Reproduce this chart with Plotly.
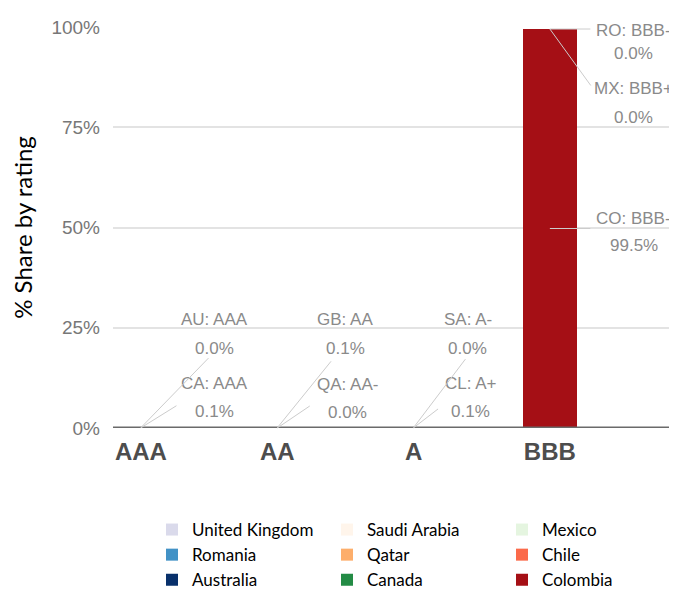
import plotly.graph_objects as go

# rating buckets on the x axis
categories = ['AAA', 'AA', 'A', 'BBB']

# y axis ticks
tick_values = [0, 25, 50, 75, 100]
tick_labels = ['0%', '25%', '50%', '75%', '100%']

# one entry per country (stacking order inside each bucket)
countries = ['Canada', 'Australia', 'Qatar', 'United Kingdom', 'Chile',
             'Saudi Arabia', 'Colombia', 'Mexico', 'Romania']
codes = ['CA', 'AU', 'QA', 'GB', 'CL', 'SA', 'CO', 'MX', 'RO']
buckets = ['AAA', 'AAA', 'AA', 'AA', 'A', 'A', 'BBB', 'BBB', 'BBB']
ratings = ['AAA', 'AAA', 'AA-', 'AA', 'A+', 'A-', 'BBB-', 'BBB+', 'BBB-']
shares = [0.1, 0.0, 0.0, 0.1, 0.1, 0.0, 99.5, 0.0, 0.0]

# legend reading order (3 columns x 3 rows, filled row by row)
legend_order = ['United Kingdom', 'Saudi Arabia', 'Mexico',
                'Romania', 'Qatar', 'Chile',
                'Australia', 'Canada', 'Colombia']

colors = {
    'United Kingdom': '#dadaeb', 'Romania': '#4292c6', 'Australia': '#08306b',
    'Saudi Arabia': '#fff5eb', 'Qatar': '#fdae6b', 'Canada': '#238b45',
    'Mexico': '#e5f5e0', 'Chile': '#fb6a4a', 'Colombia': '#a50f15',
}

# label placement in pixels relative to the segment: text dx, line1 dy, line2 dy, arrow end dx, dy
label_pos = {
    'CA': (74, -44, -16, 37, -23),
    'AU': (74, -108, -79, 69, -71),
    'QA': (70, -44, -16, 34, -23),
    'GB': (68, -108, -79, 55, -68),
    'CL': (57, -44, -16, 26, -20),
    'SA': (54, -108, -79, 53, -70),
    'CO': (84, -10, 17, 42, 0),
    'MX': (84, 59, 88, 42, 58),
    'RO': (84, 1, 24, 42, 0),
}

fig = go.Figure()
for i, c in enumerate(countries):
    fig.add_trace(go.Bar(
        x=[buckets[i]], y=[shares[i]], name=c,
        marker=dict(color=colors[c], line=dict(width=0)),
        legendrank=legend_order.index(c) + 1,
        width=0.4,
    ))

base = {k: 0.0 for k in categories}
annotations = []
for i, code in enumerate(codes):
    b = buckets[i]
    mid = base[b] + shares[i] / 2
    base[b] += shares[i]
    tdx, dy1, dy2, ex, ey = label_pos[code]
    annotations.append(dict(x=b, y=mid, xref='x', yref='y', text='',
                            showarrow=True, arrowhead=0, ax=ex, ay=ey,
                            arrowcolor='#cccccc', arrowwidth=1, standoff=0))
    for line, dy in ((f'{code}: {ratings[i]}', dy1), (f'{shares[i]:.1f}%', dy2)):
        annotations.append(dict(x=b, y=mid, xref='x', yref='y', text=line,
                                showarrow=False, xshift=tdx, yshift=-dy,
                                font=dict(size=17, color='#8a8a8a',
                                          family='Liberation Sans, Arial')))

# the page body adds an 8px margin, so the figure is drawn 8px smaller
fig.update_layout(
    width=669, height=590,
    margin=dict(l=105, r=5, t=19, b=170),
    paper_bgcolor='white', plot_bgcolor='white',
    barmode='stack', bargap=0,
    showlegend=True,
    legend=dict(orientation='h', x=0.095, xanchor='left',
                yref='container', y=-0.008, yanchor='bottom',
                traceorder='normal', entrywidth=130, entrywidthmode='pixels',
                font=dict(size=17, color='black', family='Lato, Liberation Sans')),
    annotations=annotations,
    shapes=[dict(type='line', xref='paper', yref='y', x0=0, x1=1, y0=0, y1=0,
                 line=dict(color='#6a6a6a', width=3), layer='above')],
    xaxis=dict(categoryorder='array', categoryarray=categories,
               range=[-0.205, 3.896], showgrid=False, showline=False, ticks='',
               ticklabelstandoff=7,
               tickfont=dict(size=24, color='#4d4d4d', weight='bold',
                             family='Liberation Sans, Arial')),
    yaxis=dict(range=[0, 100], tickvals=tick_values, ticktext=tick_labels,
               showgrid=True, gridcolor='#e3e3e3', gridwidth=2,
               zeroline=False, ticklabelstandoff=12,
               tickfont=dict(size=19, color='#777777', family='Liberation Sans, Arial'),
               title=dict(text='% Share by rating', standoff=18,
                          font=dict(size=24, color='black', family='Lato, Liberation Sans'))),
)

fig.write_html('out.html')
